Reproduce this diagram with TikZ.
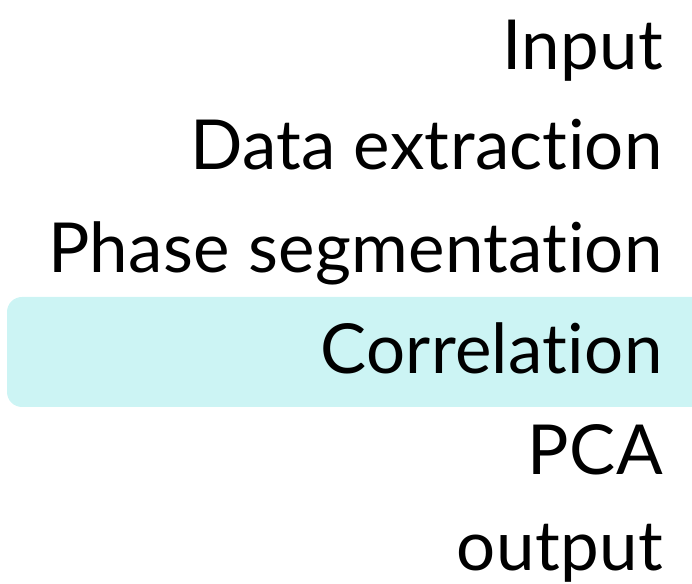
\documentclass[tikz,border=0pt]{standalone}
\usepackage{fontspec}
\setmainfont[Ligatures=NoCommon,LetterSpace=0.5]{Lato}
\usetikzlibrary{positioning}
\definecolor{hlcyan}{HTML}{CCF4F4}

\begin{document}
\begin{tikzpicture}[
  x=1pt,y=1pt,
  stepline/.style={anchor=base east,inner sep=0pt,font=\fontsize{69}{72}\selectfont}]
\useasboundingbox (0,0) rectangle (692,583);
% highlight behind the current step
\fill[hlcyan,rounded corners=15pt] (7,176) rectangle (710,286);
\node[stepline] (inp)  at (663,513) {Input};
\node[stepline] (extr) at (663,413) {Data extraction};
\node[stepline] (seg)  at (663,310) {Phase segmentation};
\node[stepline] (corr) at (663,209) {Correlation};
\node[stepline] (pca)  at (663,109) {PCA};
\node[stepline] (out)  at (663,13)  {output};
\end{tikzpicture}
\end{document}
